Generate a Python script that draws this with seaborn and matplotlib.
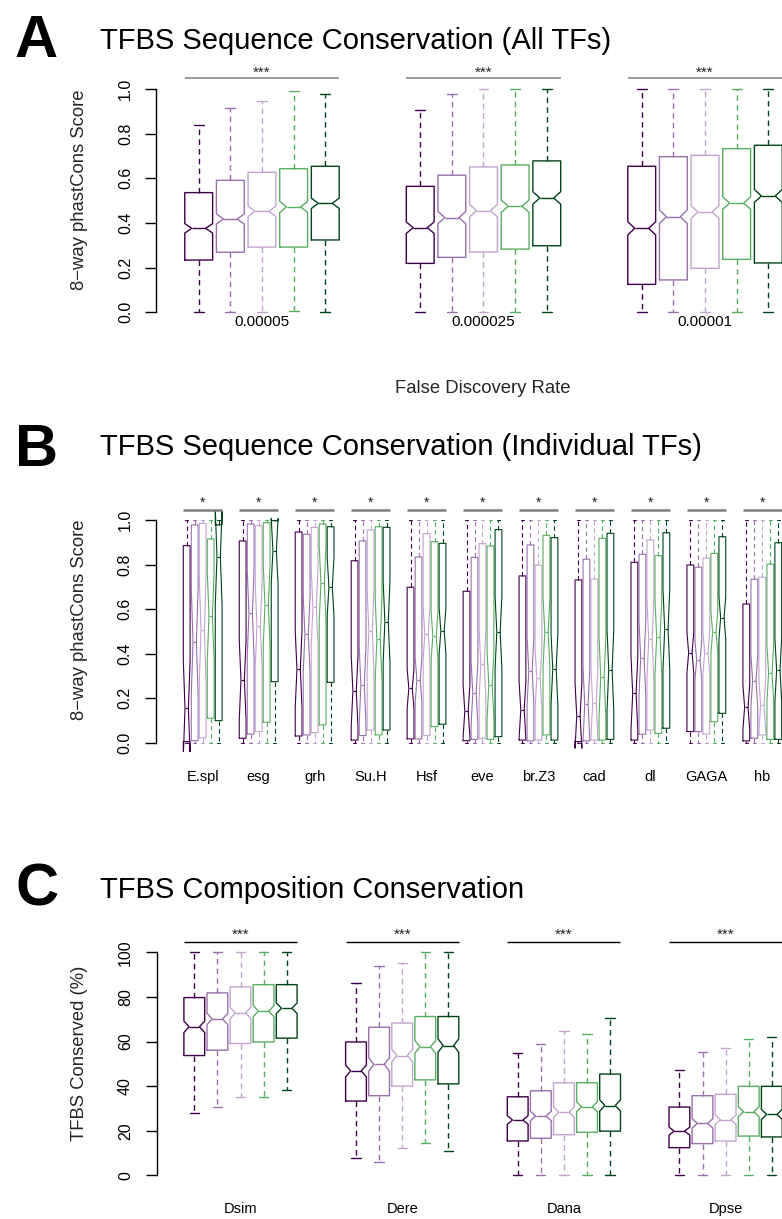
import numpy as np
import pandas as pd
import matplotlib
matplotlib.use("Agg")
import matplotlib.pyplot as plt
import seaborn as sns
from matplotlib.transforms import blended_transform_factory

# ------------------------------------------------------------------
# Data: five-number summaries (lower whisker, Q1, median, Q3, upper
# whisker) for each box, plus the number of sites behind each group
# (sets the notch height: median +/- 1.57 * IQR / sqrt(n)).
# ------------------------------------------------------------------
LEVELS = ["bin1", "bin2", "bin3", "bin4", "bin5"]
PALETTE = ["#40004b", "#9970ab", "#c2a5cf", "#5aae61", "#00441b"]

# Panel A - phastCons score at three FDR thresholds
fdr_labels = ["0.00005", "0.000025", "0.00001"]
fdr_sites = [501, 449, 801]
a_lower = [[0.00, 0.00, 0.00, 0.004, 0.00],
           [0.00, 0.00, 0.00, 0.003, 0.00],
           [0.00, 0.00, 0.00, 0.000, 0.00]]
a_q1 = [[0.234, 0.269, 0.292, 0.292, 0.324],
        [0.219, 0.246, 0.270, 0.283, 0.298],
        [0.125, 0.145, 0.197, 0.237, 0.221]]
a_median = [[0.376, 0.418, 0.452, 0.472, 0.488],
            [0.379, 0.424, 0.455, 0.475, 0.512],
            [0.376, 0.428, 0.449, 0.489, 0.521]]
a_q3 = [[0.536, 0.591, 0.627, 0.643, 0.654],
        [0.564, 0.614, 0.651, 0.660, 0.678],
        [0.654, 0.697, 0.703, 0.733, 0.748]]
a_upper = [[0.837, 0.915, 0.948, 0.992, 0.978],
           [0.905, 0.978, 1.000, 1.000, 1.000],
           [1.000, 1.000, 1.000, 1.000, 1.000]]

# Panel B - phastCons score for individual transcription factors
tf_names = ["E.spl", "esg", "grh", "Su.H", "Hsf", "eve", "br.Z3",
            "cad", "dl", "GAGA", "hb"]
tf_sites = [41, 61, 69, 61, 149, 81, 81, 61, 57, 169, 93]
b_lower = [[0.0, 0.0, 0.0, 0.0, 0.0] for _ in tf_names]
b_upper = [[1.0, 1.0, 1.0, 1.0, 1.0] for _ in tf_names]
b_q1 = [[0.005, 0.009, 0.022, 0.110, 0.099],
        [0.020, 0.039, 0.050, 0.092, 0.274],
        [0.030, 0.035, 0.045, 0.080, 0.271],
        [0.012, 0.032, 0.057, 0.035, 0.057],
        [0.017, 0.017, 0.032, 0.072, 0.083],
        [0.009, 0.015, 0.020, 0.015, 0.027],
        [0.012, 0.008, 0.012, 0.035, 0.012],
        [0.005, 0.008, 0.012, 0.012, 0.015],
        [0.012, 0.038, 0.057, 0.042, 0.065],
        [0.050, 0.050, 0.039, 0.094, 0.132],
        [0.008, 0.020, 0.035, 0.015, 0.015]]
b_median = [[0.154, 0.454, 0.506, 0.569, 0.835],
            [0.282, 0.581, 0.524, 0.618, 0.861],
            [0.330, 0.487, 0.608, 0.716, 0.700],
            [0.232, 0.259, 0.502, 0.464, 0.543],
            [0.244, 0.282, 0.488, 0.479, 0.502],
            [0.142, 0.222, 0.352, 0.259, 0.496],
            [0.147, 0.322, 0.289, 0.497, 0.330],
            [0.121, 0.174, 0.180, 0.295, 0.326],
            [0.222, 0.379, 0.464, 0.473, 0.509],
            [0.404, 0.371, 0.404, 0.496, 0.561],
            [0.159, 0.278, 0.169, 0.312, 0.326]]
b_q3 = [[0.885, 0.978, 0.985, 0.915, 0.978],
        [0.906, 0.982, 0.975, 0.988, 0.997],
        [0.946, 0.936, 0.967, 0.982, 0.970],
        [0.817, 0.906, 0.955, 0.970, 0.967],
        [0.698, 0.834, 0.939, 0.903, 0.895],
        [0.680, 0.832, 0.894, 0.883, 0.957],
        [0.749, 0.888, 0.797, 0.931, 0.921],
        [0.731, 0.824, 0.735, 0.918, 0.940],
        [0.810, 0.846, 0.910, 0.840, 0.943],
        [0.798, 0.788, 0.829, 0.850, 0.925],
        [0.623, 0.734, 0.743, 0.802, 0.898]]

# Panel C - percentage of TFBS conserved in each species
species = ["Dsim", "Dere", "Dana", "Dpse"]
species_sites = [249, 249, 249, 249]
c_lower = [[27.8, 30.7, 34.9, 35.2, 38.3],
           [7.6, 5.8, 12.4, 14.3, 11.0],
           [0.0, 0.0, 0.0, 0.0, 0.0],
           [0.0, 0.0, 0.0, 0.0, 0.0]]
c_q1 = [[53.7, 56.1, 59.1, 59.8, 61.5],
        [33.3, 35.7, 40.0, 42.8, 41.0],
        [15.4, 16.6, 18.2, 19.3, 19.8],
        [12.4, 14.2, 15.4, 17.6, 17.2]]
c_median = [[66.6, 70.1, 72.8, 73.6, 74.9],
            [46.8, 49.7, 53.7, 57.6, 58.2],
            [24.8, 26.6, 28.3, 30.7, 31.3],
            [19.8, 23.3, 24.9, 28.5, 27.3]]
c_q3 = [[79.7, 81.8, 84.5, 85.5, 85.5],
        [59.8, 66.4, 68.3, 71.2, 71.2],
        [35.2, 37.9, 41.5, 41.5, 45.4],
        [30.6, 35.7, 36.3, 39.9, 39.9]]
c_upper = [[100.0, 100.0, 100.0, 100.0, 100.0],
           [86.4, 94.0, 95.2, 100.0, 100.0],
           [54.8, 58.8, 64.9, 63.4, 70.4],
           [47.3, 55.4, 57.0, 61.2, 62.2]]


def expand(lo, q1, med, q3, hi, n):
    """Observations of size 4k+1 whose quartiles and extremes equal the summary."""
    k = max(1, int(round((n - 1) / 4)))
    return np.repeat([lo, q1, med, q3, hi], [1, k, 2 * k - 1, k, 1])


def long_table(lower, q1, med, q3, upper, sites):
    parts = []
    for g in range(len(q1)):
        for j, lvl in enumerate(LEVELS):
            vals = expand(lower[g][j], q1[g][j], med[g][j], q3[g][j],
                          upper[g][j], sites[g])
            parts.append(pd.DataFrame({"pos": 7 * g + j + 1,
                                       "level": lvl, "value": vals}))
    return pd.concat(parts, ignore_index=True)


# ------------------------------------------------------------------
# Figure
# ------------------------------------------------------------------
sns.set_theme(style="white")
plt.rcParams["font.family"] = ["Liberation Sans", "DejaVu Sans"]
plt.rcParams["lines.scale_dashes"] = True

W, H, DPI = 782, 1219, 100
fig = plt.figure(figsize=(W / DPI, H / DPI), dpi=DPI)
fig.patch.set_facecolor("white")


def fx(x):
    return x / W


def fy(y):
    return 1 - y / H


def place_axes(xmap, ymap, xlim, ylim):
    (d0, p0), (d1, p1) = xmap
    sx = (p1 - p0) / (d1 - d0)
    (v0, q0), (v1, q1) = ymap
    sy = (q0 - q1) / (v1 - v0)
    left = p0 + (xlim[0] - d0) * sx
    width = (xlim[1] - xlim[0]) * sx
    bottom = q0 + (v0 - ylim[0]) * sy
    height = (ylim[1] - ylim[0]) * sy
    ax = fig.add_axes([left / W, 1 - bottom / H, width / W, height / H])
    ax.patch.set_alpha(0)
    return ax


def draw_boxes(ax, df, width, capwidth, lw):
    sns.boxplot(data=df, x="pos", y="value", hue="level", hue_order=LEVELS,
                palette=PALETTE, native_scale=True, fill=False, dodge=False,
                width=width, whis=(0, 100), notch=True, linewidth=lw,
                showfliers=False, legend=False, ax=ax,
                whiskerprops={"linestyle": (0, (4, 3))},
                capwidths=capwidth)


def style_yaxis(ax, ticks, labels):
    for side in ("top", "right", "bottom"):
        ax.spines[side].set_visible(False)
    sp = ax.spines["left"]
    sp.set_bounds(ticks[0], ticks[-1])
    sp.set_color("black")
    sp.set_linewidth(1.0)
    ax.set_yticks(ticks)
    ax.set_yticklabels(labels, rotation=90, va="center")
    ax.tick_params(axis="y", left=True, direction="out", length=8, width=1.0,
                   color="black", pad=9, labelsize=11.5, labelcolor="black")
    ax.set_xticks([])
    ax.set_xlabel("")
    ax.set_ylabel("")
    ax.grid(False)


def annotate_groups(ax, labels, width, label_y, label_size, line_y,
                    line_color, line_w, star, star_y, star_size):
    tr = blended_transform_factory(ax.transData, fig.transFigure)
    for g, lab in enumerate(labels):
        first, last, mid = 7 * g + 1, 7 * g + 5, 7 * g + 3
        ax.plot([first - width / 2, last + width / 2], [fy(line_y)] * 2,
                transform=tr, color=line_color, lw=line_w, clip_on=False,
                solid_capstyle="butt")
        ax.text(mid, fy(star_y), star, transform=tr, ha="center",
                va="baseline", fontsize=star_size, color="#222222",
                clip_on=False)
        ax.text(mid, fy(label_y), lab, transform=tr, ha="center",
                va="center", fontsize=label_size, color="black",
                clip_on=False)


def panel_header(letter, letter_base, title, title_base):
    fig.text(fx(15), fy(letter_base), letter, ha="left", va="baseline",
             fontsize=43, fontweight="bold", color="black")
    fig.text(fx(100), fy(title_base), title, ha="left", va="baseline",
             fontsize=21, color="black")


# ---- Panel A ----
panel_header("A", 57, "TFBS Sequence Conservation (All TFs)", 49)
ax_a = place_axes(((1, 198.7), (19, 768.3)), ((0.0, 312.3), (1.0, 89.0)),
                  (-0.334, 20.33), (-0.04, 1.04))
df_a = long_table(a_lower, a_q1, a_median, a_q3, a_upper, fdr_sites)
draw_boxes(ax_a, df_a, 0.88, 0.31, 1.0)
style_yaxis(ax_a, [0, 0.2, 0.4, 0.6, 0.8, 1.0],
            ["0.0", "0.2", "0.4", "0.6", "0.8", "1.0"])
annotate_groups(ax_a, fdr_labels, 0.88, 322, 11, 78, "#7f7f7f", 1.1,
                "***", 77, 11)
ax_a.set_xlim(-0.334, 20.33)
ax_a.set_ylim(-0.04, 1.04)
fig.text(fx(80), fy(190), "8\u2212way phastCons Score", rotation=90,
         ha="center", va="center", fontsize=13.3)
fig.text(fx(483), fy(388), "False Discovery Rate", ha="center",
         va="center", fontsize=13.3)

# ---- Panel B ----
panel_header("B", 466, "TFBS Sequence Conservation (Individual TFs)", 455)
ax_b = place_axes(((1, 186.7), (75, 778.3)), ((0.0, 742.7), (1.0, 520.0)),
                  (-2.78, 78.8), (-0.04, 1.04))
df_b = long_table(b_lower, b_q1, b_median, b_q3, b_upper, tf_sites)
draw_boxes(ax_b, df_b, 0.85, 0.45, 0.8)
style_yaxis(ax_b, [0, 0.2, 0.4, 0.6, 0.8, 1.0],
            ["0.0", "0.2", "0.4", "0.6", "0.8", "1.0"])
annotate_groups(ax_b, tf_names, 0.85, 777, 10.5, 510, "#7f7f7f", 1.8,
                "*", 507, 10)
ax_b.set_xlim(-2.78, 78.8)
ax_b.set_ylim(-0.04, 1.04)
fig.text(fx(80), fy(620), "8\u2212way phastCons Score", rotation=90,
         ha="center", va="center", fontsize=13.3)

# ---- Panel C ----
panel_header("C", 905, "TFBS Composition Conservation", 898)
ax_c = place_axes(((1, 194.3), (26, 771.8)), ((0.0, 1175.3), (100.0, 952.3)),
                  (-0.63, 27.6), (-4.0, 104.0))
df_c = long_table(c_lower, c_q1, c_median, c_q3, c_upper, species_sites)
draw_boxes(ax_c, df_c, 0.9, 0.4, 1.0)
style_yaxis(ax_c, [0, 20, 40, 60, 80, 100],
            ["0", "20", "40", "60", "80", "100"])
annotate_groups(ax_c, species, 0.9, 1209, 10.5, 942.3, "black", 1.0,
                "***", 939, 11)
ax_c.set_xlim(-0.63, 27.6)
ax_c.set_ylim(-4.0, 104.0)
fig.text(fx(80), fy(1053), "TFBS Conserved (%)", rotation=90,
         ha="center", va="center", fontsize=13.3)

fig.savefig("out.png", dpi=DPI, facecolor="white")
